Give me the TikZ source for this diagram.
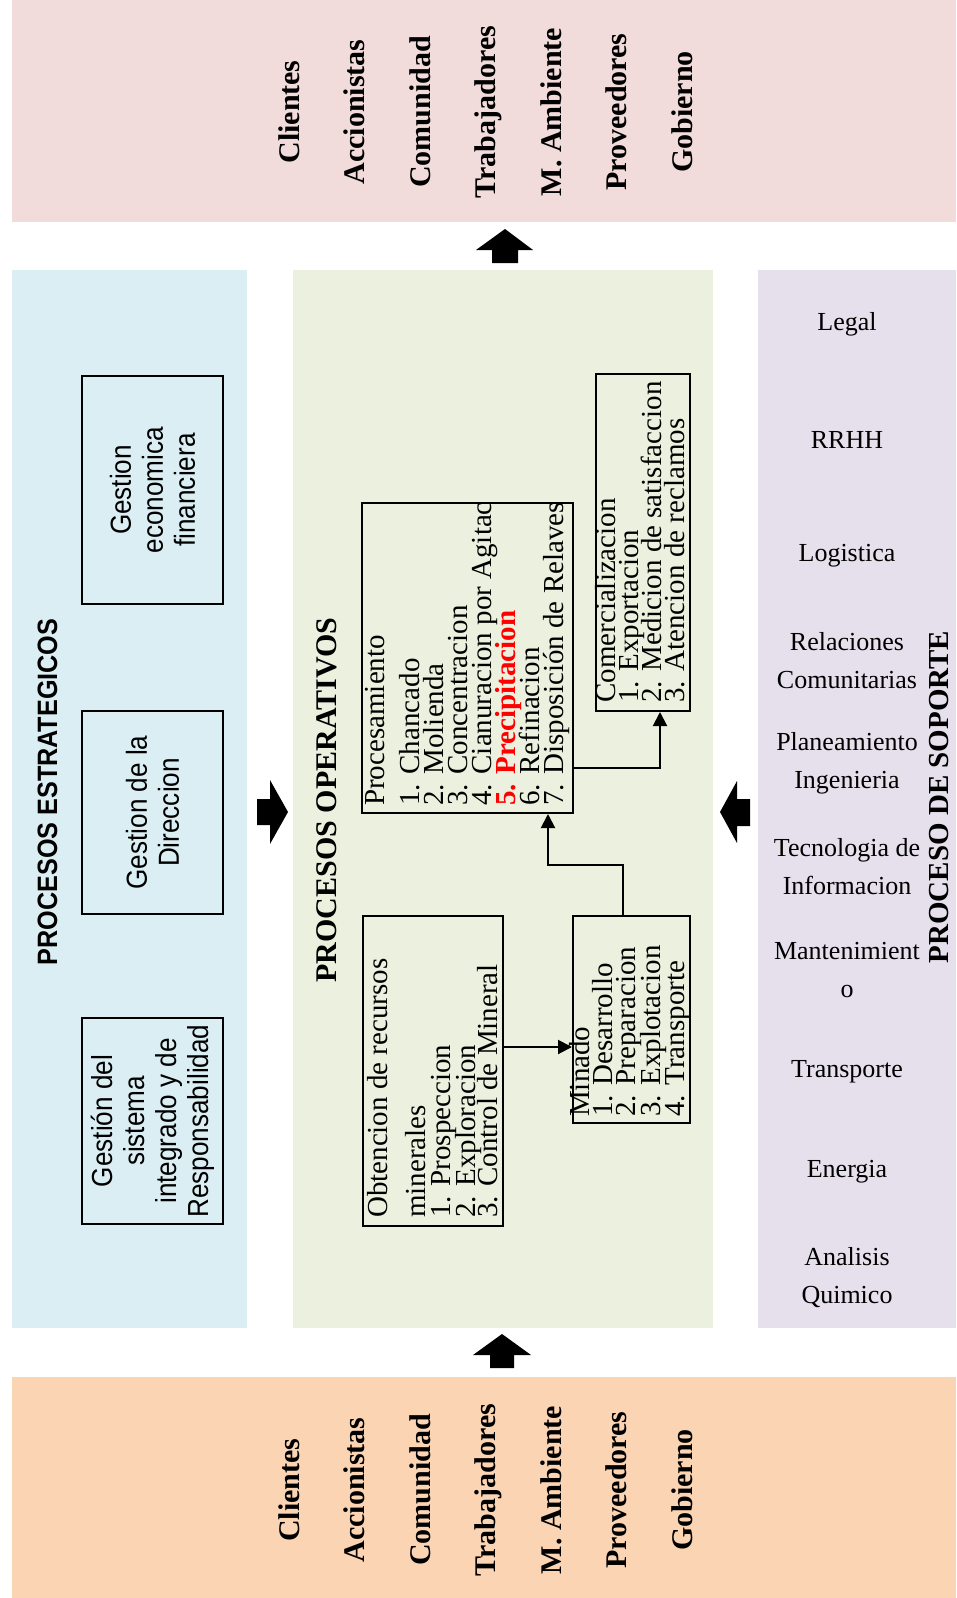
\documentclass[tikz,border=0pt]{standalone}
\usepackage{fontspec}
\setmainfont{Liberation Serif}
\newfontfamily\narrowsans[FakeStretch=0.9]{Liberation Sans}
\usetikzlibrary{arrows.meta,calc}
\definecolor{pinkc}{HTML}{F2DCDB}
\definecolor{orangec}{HTML}{FBD4B4}
\definecolor{bluec}{HTML}{DAEEF3}
\definecolor{greenc}{HTML}{EBF1DE}
\definecolor{purplec}{HTML}{E5E0EC}
\definecolor{redc}{HTML}{FF0000}
\begin{document}
\begin{tikzpicture}[x=1pt,y=-1pt,
  stake/.style={rotate=90,anchor=base,inner sep=0,font=\fontsize{30}{30}\selectfont\bfseries},
  title/.style={rotate=90,anchor=base,inner sep=0},
  obox/.style={draw=black,line width=2pt,inner sep=0,rectangle},
  sbox/.style={draw=black,line width=2pt,inner sep=0,rectangle,align=center,rotate=90,
    font=\narrowsans\fontsize{29}{32}\selectfont},
  oline/.style={rotate=90,anchor=base west,inner sep=0,font=\fontsize{29}{29}\selectfont},
  supitem/.style={align=center,inner sep=0,font=\fontsize{26}{38}\selectfont},
  conn/.style={line width=2pt,-{Triangle[length=14pt,width=14pt]}},
  plain/.style={line width=2pt}]
\useasboundingbox (0,0) rectangle (956,1598);
% panels
\fill[pinkc] (12,0) rectangle (956,222);
\fill[orangec] (12,1377) rectangle (956,1598);
\fill[bluec] (12,270) rectangle (247,1328);
\fill[greenc] (293,270) rectangle (713,1328);
\fill[purplec] (758,270) rectangle (956,1328);
% block arrows
\fill[black] (505,229) -- (533,250) -- (518,250) -- (518,263) -- (492,263) -- (492,250) -- (476,250) -- cycle;
\fill[black] (502,1334) -- (531,1355) -- (514,1355) -- (514,1368) -- (490,1368) -- (490,1355) -- (473,1355) -- cycle;
\fill[black] (288,812) -- (270,780) -- (270,799) -- (257,799) -- (257,825) -- (270,825) -- (270,844) -- cycle;
\fill[black] (720,812) -- (737,781) -- (737,799) -- (750,799) -- (750,826) -- (737,826) -- (737,843) -- cycle;
% stakeholders top
\node[stake] (t1) at (299,112) {Clientes};
\node[stake] (t2) at (364,112) {Accionistas};
\node[stake] (t3) at (430,112) {Comunidad};
\node[stake] (t4) at (495,112) {Trabajadores};
\node[stake] (t5) at (561,112) {M. Ambiente};
\node[stake] (t6) at (626,112) {Proveedores};
\node[stake] (t7) at (692,112) {Gobierno};
% stakeholders bottom
\node[stake] (b1) at (299,1490) {Clientes};
\node[stake] (b2) at (364,1490) {Accionistas};
\node[stake] (b3) at (430,1490) {Comunidad};
\node[stake] (b4) at (495,1490) {Trabajadores};
\node[stake] (b5) at (561,1490) {M. Ambiente};
\node[stake] (b6) at (626,1490) {Proveedores};
\node[stake] (b7) at (692,1490) {Gobierno};
% strategic
\node[title,font=\narrowsans\bfseries\fontsize{28}{28}\selectfont] (est) at (57,792) {PROCESOS ESTRATEGICOS};
\node[sbox,minimum width=228,minimum height=141] (g1) at (152.5,490) {Gestion\\economica\\financiera};
\node[sbox,minimum width=203,minimum height=141] (g2) at (152.5,812.5) {Gestion de la\\Direccion};
\node[sbox,minimum width=206,minimum height=141] (g3) at (152.5,1121) {Gestión del\\sistema\\integrado y de\\Responsabilidad};
% operative
\node[title,font=\bfseries\fontsize{30}{30}\selectfont] (ope) at (336,800) {PROCESOS OPERATIVOS};
\node[obox,minimum width=211,minimum height=310] (proc) at (467.5,658) {};
\node[obox,minimum width=94,minimum height=337] (com) at (643,542.5) {};
\node[obox,minimum width=140,minimum height=310] (obt) at (433,1071) {};
\node[obox,minimum width=117,minimum height=207] (min) at (631.5,1019.5) {};
\begin{scope}
\clip (362,503) rectangle (573,813);
\node[oline] (p0) at (384,806) {Procesamiento};
\node[oline] (p1) at (419,806) {1. Chancado};
\node[oline] (p2) at (443,806) {2. Molienda};
\node[oline] (p3) at (467,806) {3. Concentracion};
\node[oline] (p4) at (491,806) {4. Cianuracion por Agitac};
\node[oline,text=redc,font=\bfseries\fontsize{29}{29}\selectfont] (p5) at (515,806) {5. Precipitacion};
\node[oline] (p6) at (539,806) {6. Refinacion};
\node[oline] (p7) at (563,806) {7. Disposición de Relaves};
\end{scope}
\node[oline] (c0) at (615,703) {Comercializacion};
\node[oline] (c1) at (638,703) {1. Exportacion};
\node[oline] (c2) at (661,703) {2. Medicion de satisfaccion};
\node[oline] (c3) at (684,703) {3. Atencion de reclamos};
\node[oline] (o0) at (387,1218) {Obtencion de recursos};
\node[oline] (o1) at (425,1218) {minerales};
\node[oline] (o2) at (450,1218) {1. Prospeccion};
\node[oline] (o3) at (475,1218) {2. Exploracion};
\node[oline] (o4) at (497,1218) {3. Control de Mineral};
\node[oline] (m0) at (589,1117) {Minado};
\node[oline] (m1) at (612,1117) {1. Desarrollo};
\node[oline] (m2) at (635,1117) {2. Preparacion};
\node[oline] (m3) at (660,1117) {3. Explotacion};
\node[oline] (m4) at (684,1117) {4. Transporte};
% connectors
\coordinate (k1) at (0,1047);
\draw[conn] (obt.east |- k1) -- (min.west |- k1);
\coordinate (k2) at (623,865);
\coordinate (k3) at (548,865);
\draw[conn] (min.north -| k2) -- (k2) -- (k3) -- (proc.south -| k3);
\coordinate (k4) at (660,768);
\draw[conn] (proc.east |- k4) -- (k4) -- (com.south -| k4);
% support
\node[title,font=\bfseries\fontsize{29}{29}\selectfont] (sop) at (948,797) {PROCESO DE SOPORTE};
\node[supitem] (s1) at (847,324) {Legal};
\node[supitem] (s2) at (847,440) {RRHH};
\node[supitem] (s3) at (847,556) {Logistica};
\node[supitem] (s4) at (847,661) {Relaciones\\Comunitarias};
\node[supitem] (s5) at (847,763) {Planeamiento\\Ingenieria};
\node[supitem] (s6) at (847,867) {Tecnologia de\\Informacion};
\node[supitem] (s7) at (847,970) {Mantenimient\\o};
\node[supitem] (s8) at (847,1072) {Transporte};
\node[supitem] (s9) at (847,1172) {Energia};
\node[supitem] (s10) at (847,1278) {Analisis\\Quimico};
\end{tikzpicture}
\end{document}
